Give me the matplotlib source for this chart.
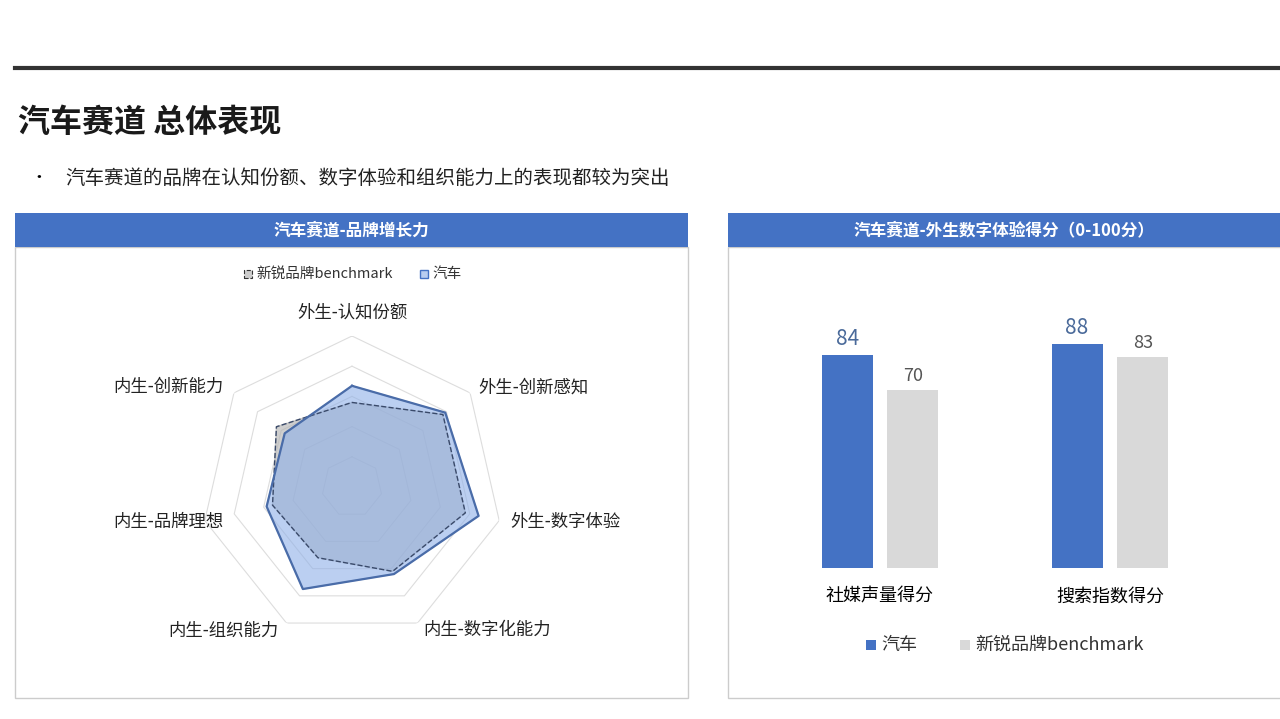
import matplotlib.pyplot as plt
import numpy as np
from matplotlib.patches import Rectangle

plt.rcParams['font.family'] = ['Noto Sans CJK SC', 'DejaVu Sans']

# data
dims = ['外生-认知份额', '外生-创新感知', '外生-数字体验', '内生-数字化能力',
        '内生-组织能力', '内生-品牌理想', '内生-创新能力']
car = [67, 79, 86, 64, 75, 58, 57]
bench = [56, 77, 77, 62, 52, 54, 64]

bar_cats = ['社媒声量得分', '搜索指数得分']
bar_car = [84, 88]
bar_bench = [70, 83]

W, H = 1280, 719
fig = plt.figure(figsize=(12.8, 7.19), dpi=100)

def fx(x): return x / W
def fy(y): return 1 - y / H

# header
fig.add_artist(plt.Line2D([fx(15), fx(1280)], [fy(68), fy(68)], color='#333333', lw=3))
fig.text(fx(18), fy(123), '汽车赛道 总体表现', fontsize=23, fontweight='bold', va='center', color='#1a1a1a')
fig.text(fx(30), fy(178), '•', fontsize=12, va='center')
fig.text(fx(65), fy(178), '汽车赛道的品牌在认知份额、数字体验和组织能力上的表现都较为突出',
         fontsize=14, va='center', color='#222222')

# panels (drawn behind the axes)
blue = '#4472C4'
for x0, x1, title in [(15, 688, '汽车赛道-品牌增长力'), (728, 1290, '汽车赛道-外生数字体验得分（0-100分）')]:
    fig.add_artist(Rectangle((fx(x0), fy(698)), fx(x1 - x0), (698 - 247) / H,
                             facecolor='white', edgecolor='#cccccc', lw=1, zorder=-5))
    fig.add_artist(Rectangle((fx(x0), fy(247)), fx(x1 - x0), 34 / H,
                             facecolor=blue, edgecolor='none', zorder=-5))
    fig.text(fx((x0 + min(x1, 1280)) / 2), fy(230), title, color='white', fontsize=12,
             fontweight='bold', ha='center', va='center')

# radar
cx, cy, R = 352, 487, 151
ax = fig.add_axes([fx(cx - R), fy(cy + R), 2 * R / W, 2 * R / H], projection='polar')
n = len(dims)
ang = np.pi / 2 - np.arange(n) * 2 * np.pi / n
ac = np.append(ang, ang[0])
for r in [20, 40, 60, 80, 100]:
    ax.plot(ac, [r] * (n + 1), color='#dddddd', lw=0.8)
vb = np.append(bench, bench[0])
vc = np.append(car, car[0])
ax.fill(ac, vb, color='#b0b0b0', alpha=0.6, zorder=2)
ax.plot(ac, vb, color='#3a4a6a', lw=1, ls='--', zorder=4)
ax.fill(ac, vc, color='#8fb0e8', alpha=0.6, zorder=3)
ax.plot(ac, vc, color='#4a6ca8', lw=1.6, zorder=5)
ax.set_ylim(0, 100)
ax.axis('off')
lab_pos = [(352, 313), (533, 388), (565, 522), (487, 630), (223, 631), (168, 522), (168, 387)]
for d, (x, y) in zip(dims, lab_pos):
    fig.text(fx(x), fy(y), d, fontsize=12.5, ha='center', va='center', color='#222222')
# radar legend
fig.add_artist(Rectangle((fx(244), fy(278)), 8 / W, 8 / H, facecolor='#cccccc', edgecolor='#333333', ls='--', lw=0.8))
fig.text(fx(256), fy(274), '新锐品牌benchmark', fontsize=10.5, va='center', color='#333333')
fig.add_artist(Rectangle((fx(420), fy(278)), 8 / W, 8 / H, facecolor='#b8cdf0', edgecolor=blue, lw=1))
fig.text(fx(432), fy(274), '汽车', fontsize=10.5, va='center', color='#333333')

# bars
bx = fig.add_axes([fx(765), fy(568), 460 / W, 254 / H])
bx.patch.set_alpha(0)
x = np.arange(len(bar_cats))
w = 0.222
b1 = bx.bar(x - 0.143, bar_car, w, color=blue)
b2 = bx.bar(x + 0.143, bar_bench, w, color='#d9d9d9')
for b, v in zip(b1, bar_car):
    bx.text(b.get_x() + w / 2, v + 2, str(v), ha='center', va='bottom', fontsize=15, color='#4a6a9a')
for b, v in zip(b2, bar_bench):
    bx.text(b.get_x() + w / 2, v + 2, str(v), ha='center', va='bottom', fontsize=13, color='#555555')
bx.set_xlim(-0.5, 1.5)
bx.set_ylim(0, 100)
bx.set_xticks(x)
bx.set_xticklabels(bar_cats, fontsize=13)
bx.tick_params(length=0, pad=14)
bx.set_yticks([])
for s in bx.spines.values():
    s.set_visible(False)
fig.add_artist(Rectangle((fx(866), fy(650)), 10 / W, 10 / H, facecolor=blue))
fig.text(fx(881), fy(645), '汽车', fontsize=13, va='center', color='#333333')
fig.add_artist(Rectangle((fx(960), fy(650)), 10 / W, 10 / H, facecolor='#d9d9d9'))
fig.text(fx(975), fy(645), '新锐品牌benchmark', fontsize=13, va='center', color='#333333')

fig.savefig('out.png', dpi=100)
